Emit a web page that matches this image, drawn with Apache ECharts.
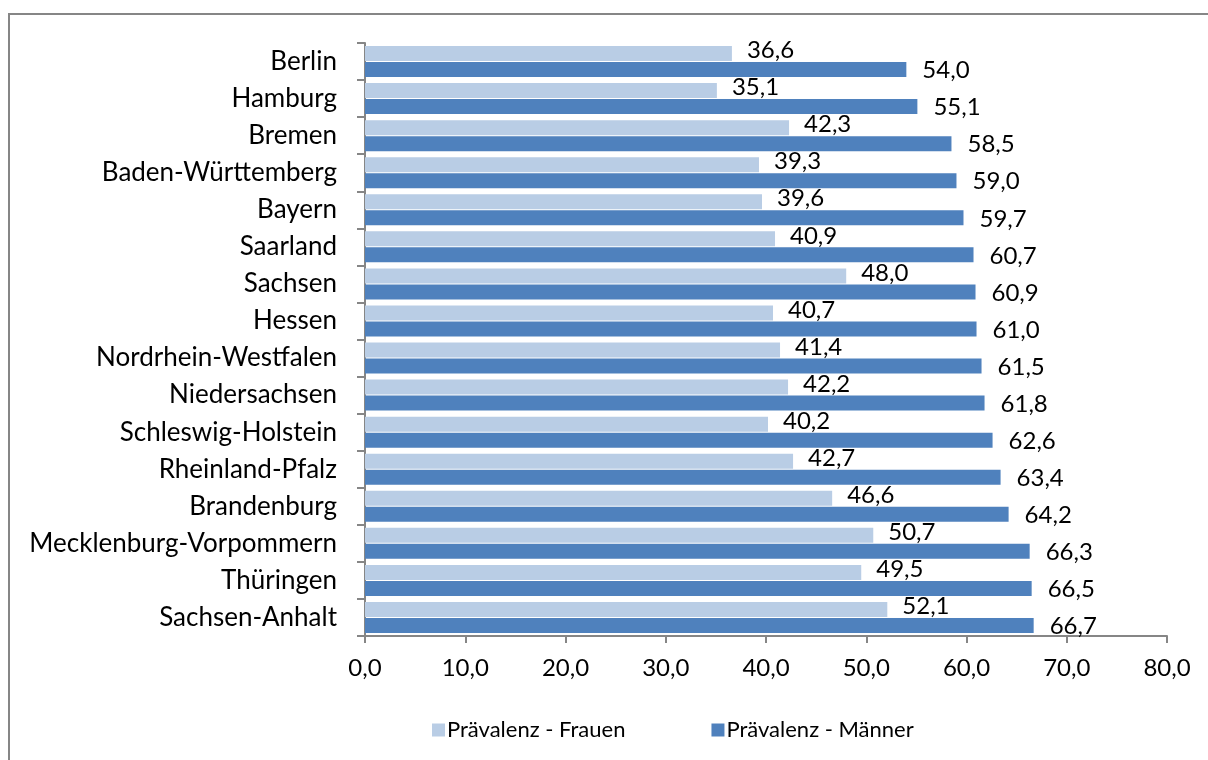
<!DOCTYPE html>
<html>
<head>
<meta charset="utf-8">
<script src="https://cdn.jsdelivr.net/npm/echarts@6/dist/echarts.min.js"></script>
<style>
  html, body { margin: 0; padding: 0; background: #fff; }
  #chart { width: 1208px; height: 760px; }
</style>
</head>
<body>
<div id="chart"></div>
<script>
const states = [
  "Berlin", "Hamburg", "Bremen", "Baden-Württemberg", "Bayern", "Saarland",
  "Sachsen", "Hessen", "Nordrhein-Westfalen", "Niedersachsen", "Schleswig-Holstein",
  "Rheinland-Pfalz", "Brandenburg", "Mecklenburg-Vorpommern", "Thüringen", "Sachsen-Anhalt"
];
const frauen = [36.6, 35.1, 42.3, 39.3, 39.6, 40.9, 48.0, 40.7, 41.4, 42.2, 40.2, 42.7, 46.6, 50.7, 49.5, 52.1];
const maenner = [54.0, 55.1, 58.5, 59.0, 59.7, 60.7, 60.9, 61.0, 61.5, 61.8, 62.6, 63.4, 64.2, 66.3, 66.5, 66.7];
const xTicks = [0, 10, 20, 30, 40, 50, 60, 70, 80];

const fmt = (v) => Number(v).toFixed(1).replace(".", ",");
const font = "Lato";

const chart = echarts.init(document.getElementById("chart"));

const option = {
  backgroundColor: "#fff",
  animation: false,
  textStyle: { fontFamily: font, color: "#000" },
  graphic: [
    {
      type: "rect",
      shape: { x: 9, y: 14, width: 1400, height: 1000 },
      style: { fill: "none", stroke: "#868686", lineWidth: 2 },
      silent: true
    }
  ],
  grid: { left: 365, right: 41, top: 43, bottom: 124 },
  legend: {
    left: 427,
    top: 714,
    itemWidth: 13,
    itemHeight: 13,
    itemGap: 86,
    icon: "rect",
    textStyle: { fontFamily: font, fontSize: 22, color: "#000", padding: [0, 0, 0, -3] },
    data: ["Prävalenz - Frauen", "Prävalenz - Männer"]
  },
  xAxis: {
    type: "value",
    min: xTicks[0],
    max: xTicks[xTicks.length - 1],
    interval: 10,
    axisLine: { show: true, lineStyle: { color: "#868686", width: 2 } },
    axisTick: { show: true, length: 7, lineStyle: { color: "#868686", width: 2 } },
    axisLabel: { fontFamily: font, fontSize: 24, color: "#000", margin: 20, formatter: fmt },
    splitLine: { show: false }
  },
  yAxis: {
    type: "category",
    inverse: true,
    data: states,
    axisLine: { show: true, lineStyle: { color: "#868686", width: 2 } },
    axisTick: { show: true, length: 8, lineStyle: { color: "#868686", width: 2 } },
    axisLabel: { fontFamily: font, fontSize: 26, color: "#000", margin: 28 }
  },
  series: [
    {
      name: "Prävalenz - Frauen",
      type: "bar",
      data: frauen,
      barWidth: 15,
      barGap: "7%",
      itemStyle: { color: "#B9CDE5" },
      label: {
        show: true,
        position: "right",
        distance: 15,
        offset: [0, -3],
        fontFamily: font,
        fontSize: 24,
        color: "#000",
        formatter: (p) => fmt(p.value)
      }
    },
    {
      name: "Prävalenz - Männer",
      type: "bar",
      data: maenner,
      barWidth: 15,
      barGap: "7%",
      itemStyle: { color: "#4F81BD" },
      label: {
        show: true,
        position: "right",
        distance: 16,
        offset: [0, 1],
        fontFamily: font,
        fontSize: 24,
        color: "#000",
        formatter: (p) => fmt(p.value)
      }
    }
  ]
};

chart.setOption(option);
</script>
</body>
</html>
